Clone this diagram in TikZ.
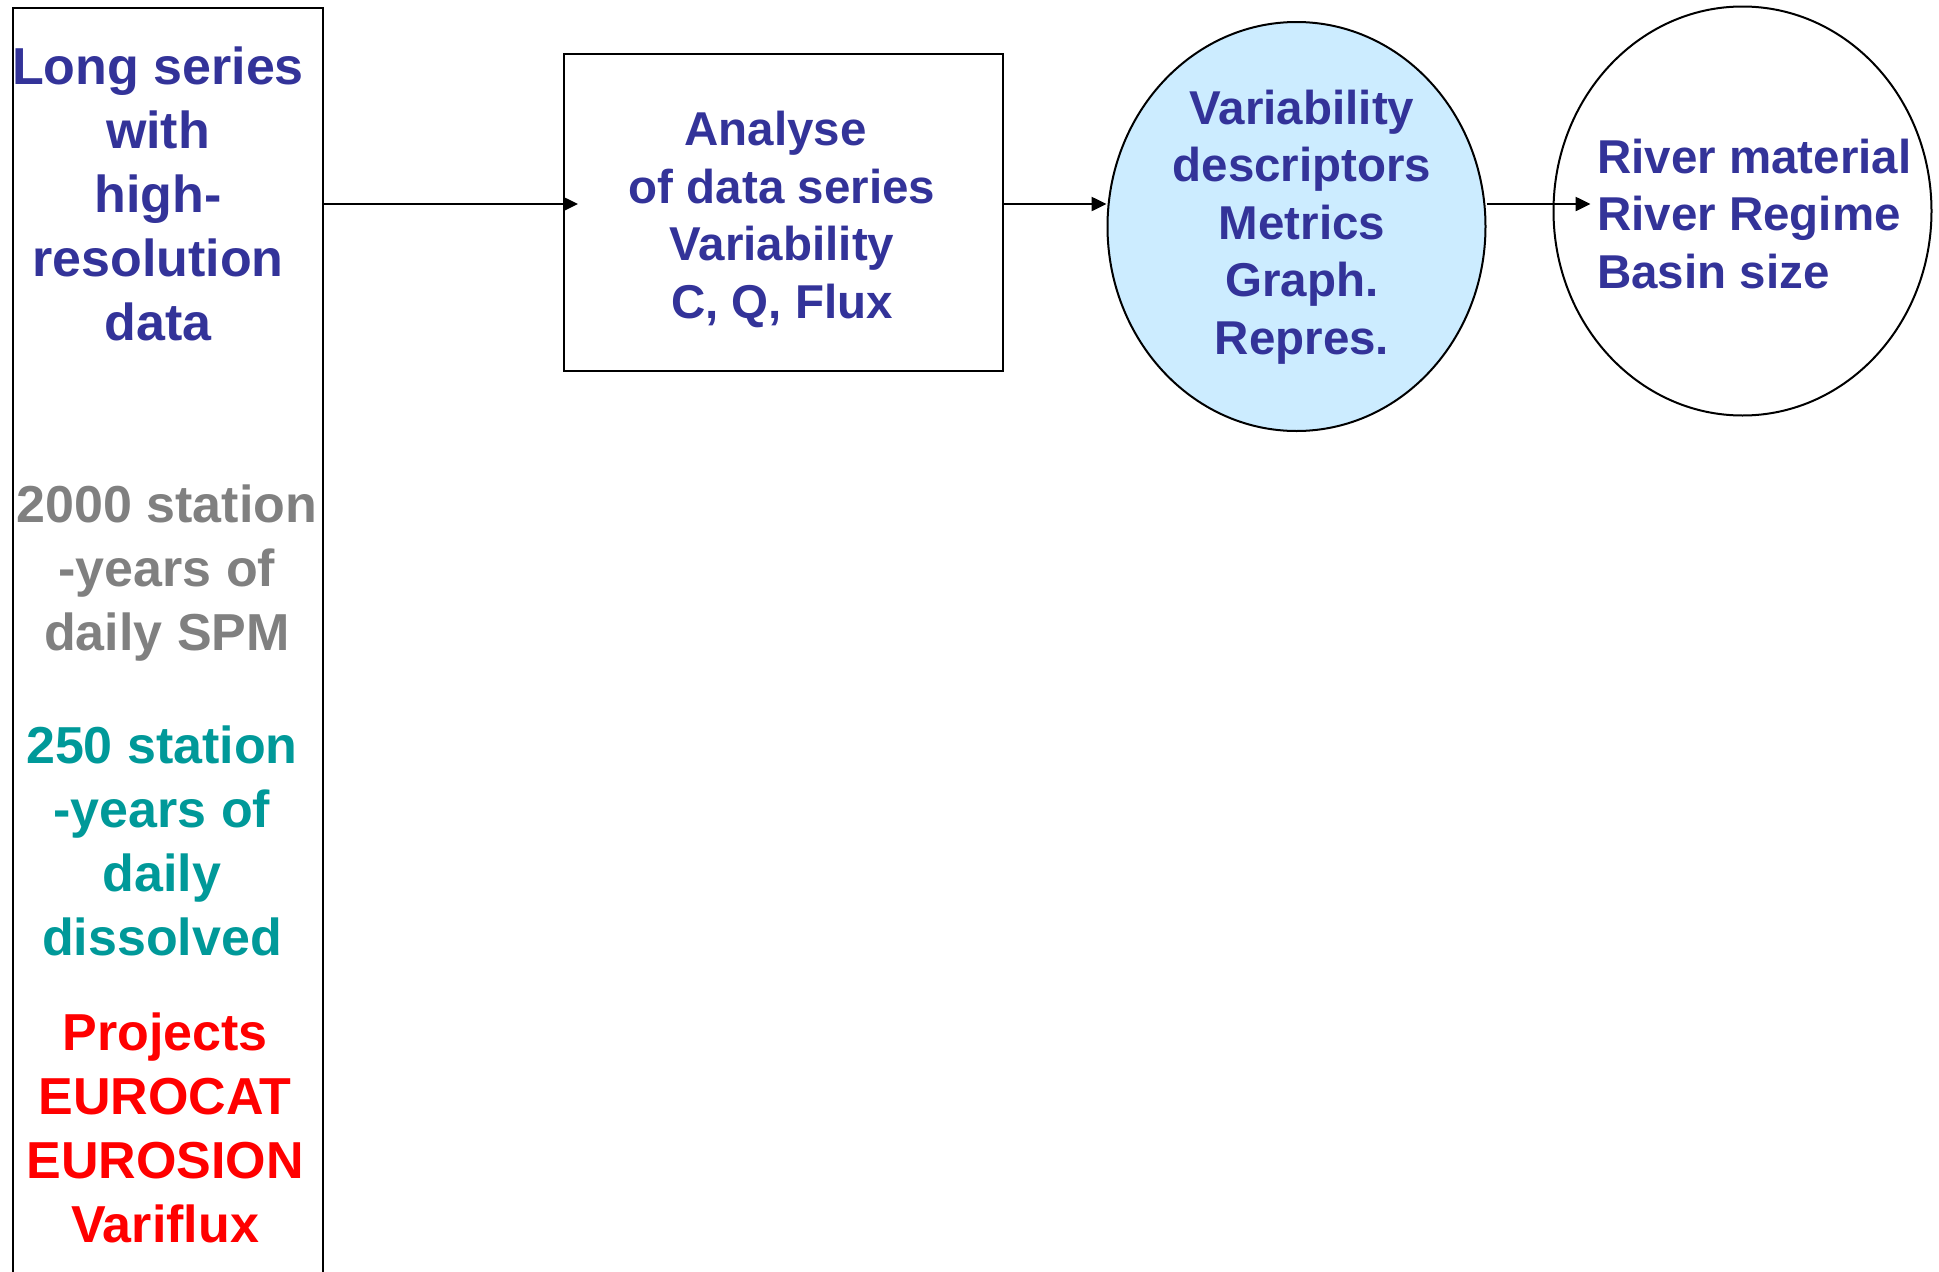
\documentclass[tikz,border=0pt]{standalone}
\usepackage{fontspec}
\setmainfont{Liberation Sans}
\usetikzlibrary{shapes.geometric, arrows.meta, positioning, calc}
\definecolor{txtblue}{HTML}{333399}
\definecolor{txtgray}{HTML}{808080}
\definecolor{txtteal}{HTML}{009999}
\definecolor{txtred}{HTML}{FF0000}
\definecolor{descfill}{HTML}{CCECFF}

\begin{document}
\begin{tikzpicture}[
    x=1pt, y=-1pt,
    big/.style={font=\fontsize{52}{64}\selectfont\bfseries, align=center, inner sep=0pt, anchor=base},
    mid/.style={font=\fontsize{47.5}{57.5}\selectfont\bfseries, inner sep=0pt, anchor=base},
    frame/.style={rectangle, draw, line width=2.2pt, inner sep=0pt, anchor=north west},
    disc/.style={ellipse, draw, line width=2pt, minimum width=378pt, minimum height=409pt, inner sep=0pt},
    arrow/.style={-{Triangle[length=15pt, width=14pt]}, line width=2.5pt}
]
    \useasboundingbox (0,0) rectangle (1939,1272);
    \clip (0,0) rectangle (1939,1272);

    % Input data column
    \node[frame, minimum width=310pt, minimum height=1300pt] (src) at (12,7) {};
    \node[big, txtblue] (longtxt) at (158,340) {Long series\\with\\high-\\resolution\\data};
    \node[big, txtgray] (spmtxt) at (167,650) {2000 station\\-years of\\daily SPM};
    \node[big, txtteal] (dissolvedtxt) at (162,955) {250 station\\-years of\\daily\hspace*{0.278em}\\dissolved};
    \node[big, txtred] (projtxt) at (165,1242) {Projects\\EUROCAT\\EUROSION\\Variflux};

    % Analysis step
    \node[frame, minimum width=439pt, minimum height=317pt] (ana) at (563,53) {};
    \node[mid, txtblue, align=center] (anatxt) at (782,318) {Analyse\hspace*{0.278em}\\of data series\\Variability\\C, Q, Flux};

    % Descriptors
    \node[disc, fill=descfill] (desc) at (1296.5,226.5) {};
    \node[mid, txtblue, align=center] (desctxt) at (1302,354) {Variability\\descriptors\\Metrics\\Graph.\\Repres.};

    % Drivers
    \node[disc] (drv) at (1742.5,211) {};
    \node[mid, txtblue, align=left, anchor=base west] (drvtxt) at (1597,288) {River material\\River Regime\\Basin size};

    % Flow arrows
    \coordinate (flow) at (0,204);
    \draw[arrow] (src.east |- flow) -- ($(ana.west |- flow)+(15,0)$);
    \draw[arrow] (ana.east |- flow) -- (desc.west |- flow);
    \draw[arrow] (desc.east |- flow) -- ($(drv.west |- flow)+(38,0)$);

\end{tikzpicture}
\end{document}
